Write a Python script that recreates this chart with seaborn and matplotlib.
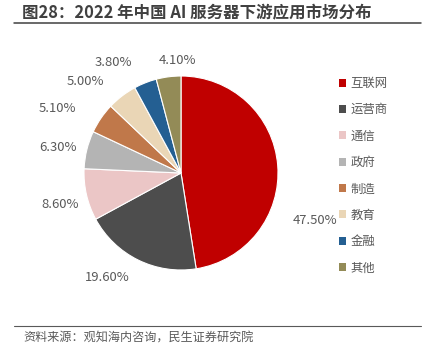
"""2022 China AI server downstream application share - pie chart."""

import matplotlib
matplotlib.use("Agg")
import matplotlib.pyplot as plt
from matplotlib.lines import Line2D
from matplotlib.patches import Patch
import seaborn as sns

# data
categories = ["互联网", "运营商", "通信", "政府", "制造", "教育", "金融", "其他"]
shares = [47.5, 19.6, 8.6, 6.3, 5.1, 5.0, 3.8, 4.1]
colors = ["#C00000", "#4D4D4D", "#EBC6C6", "#B4B4B4", "#C0784A", "#EAD6B6", "#245F92", "#938B57"]

# label positions (in pie-radius units, relative to centre), mimic Excel best-fit
label_pos = [(1.38, -0.49), (-0.76, -1.08), (-1.25, -0.32), (-1.27, 0.26),
             (-1.27, 0.67), (-0.99, 0.94), (-0.70, 1.14), (-0.04, 1.16)]

sns.set_style("white")
plt.rcParams["font.family"] = ["Noto Sans CJK SC", "DejaVu Sans"]

W, H = 428, 350
fig = plt.figure(figsize=(W / 100, H / 100), dpi=100)

# pie axes: centre (181,173) px, radius 97 px, limits +-1.5
cx, cy, r = 181, 173, 97
span = 1.5 * r
ax = fig.add_axes([(cx - span) / W, (H - cy - span) / H, 2 * span / W, 2 * span / H])
wedges, _ = ax.pie(shares, colors=colors, startangle=90, counterclock=False,
                   radius=1.0, wedgeprops=dict(edgecolor="white", linewidth=0.8))
ax.set_xlim(-1.5, 1.5)
ax.set_ylim(-1.5, 1.5)
ax.axis("off")

for val, (lx, ly) in zip(shares, label_pos):
    ax.text(lx, ly, f"{val:.2f}%", ha="center", va="center",
            fontsize=9.4, color="#595959")

# legend
handles = [Patch(facecolor=c, edgecolor="none") for c in colors]
fig.legend(handles, categories, loc="upper left", bbox_to_anchor=(334 / W, 1 - 72 / H),
           frameon=False, fontsize=8.9, labelcolor="#595959",
           handlelength=0.6, handleheight=0.6, handletextpad=0.35,
           labelspacing=1.08, borderaxespad=0)

# title and rules
fig.text(22 / W, 1 - 13 / H, "图28：2022 年中国 AI 服务器下游应用市场分布",
         ha="left", va="center", fontsize=11.85, fontweight="bold", color="#404040")
fig.add_artist(Line2D([14 / W, 421 / W], [1 - 22.5 / H, 1 - 22.5 / H],
                      color="#404040", linewidth=1.1))
fig.add_artist(Line2D([14 / W, 421 / W], [1 - 326 / H, 1 - 326 / H],
                      color="#595959", linewidth=0.8))
fig.text(23 / W, 1 - 338 / H, "资料来源：观知海内咨询，民生证券研究院",
         ha="left", va="center", fontsize=8.7, color="#595959")

fig.savefig("out.png", dpi=100)
